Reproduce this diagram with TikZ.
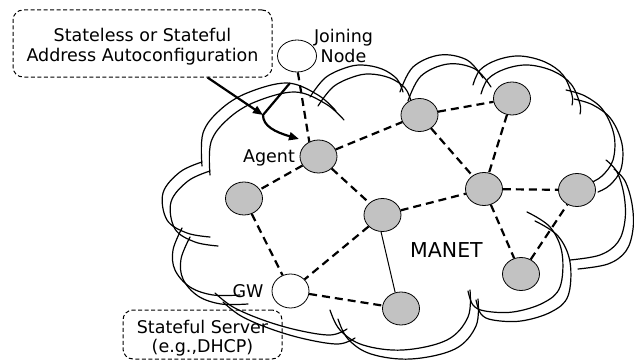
\documentclass[tikz,border=0pt]{standalone}
\usepackage{fontspec}
\setmainfont{DejaVu Sans}
\usetikzlibrary{shapes.geometric,arrows.meta,calc}

\tikzset{
  cloudline/.style={line width=1.2pt, line cap=round},
  host/.style={ellipse, draw, line width=0.8pt, fill=black!24,
    minimum width=37pt, minimum height=33pt, inner sep=0pt},
  freehost/.style={host, fill=white},
  link/.style={line width=2.2pt, dash pattern=on 8pt off 5pt},
  wire/.style={line width=1pt},
  notebox/.style={draw, dash pattern=on 4pt off 2.5pt, line width=1pt,
    rounded corners=10pt, inner sep=0pt},
  txt/.style={font=\fontsize{17.5}{20}\selectfont, inner sep=0pt},
  bigtxt/.style={font=\fontsize{20.5}{24}\selectfont, inner sep=0pt},
  flow/.style={line width=2.2pt, -{Triangle[length=10pt,width=8pt]}},
}

% one outline of the cloud, drawn as overlapping bumps
\newcommand\cloudoutline{%
  \draw[cloudline] plot[smooth,tension=0.6] coordinates
    {(202,162) (180,172) (163,193) (167,220) (187,233) (210,237)};
  \draw[cloudline] plot[smooth,tension=0.6] coordinates
    {(202,166) (203,133) (220,110) (247,93) (287,83) (318,95) (336,111)};
  \draw[cloudline] plot[smooth,tension=0.6] coordinates
    {(310,97) (325,78) (345,68) (362,65) (382,69) (397,79) (403,92)};
  \draw[cloudline] plot[smooth,tension=0.6] coordinates
    {(400,92) (413,67) (440,55) (467,60) (483,78)};
  \draw[cloudline] plot[smooth,tension=0.6] coordinates
    {(473,85) (480,70) (497,60) (520,56) (545,62) (563,75) (572,95) (572,105)};
  \draw[cloudline] plot[smooth,tension=0.6] coordinates
    {(566,90) (585,96) (603,110) (614,135) (613,160) (602,176) (590,183)};
  \draw[cloudline] plot[smooth,tension=0.6] coordinates
    {(606,160) (617,172) (624,195) (625,220) (618,242) (600,255) (570,260)};
  \draw[cloudline] plot[smooth,tension=0.6] coordinates
    {(468,291) (473,305) (485,311) (513,312) (543,303) (560,287) (562,253) (550,227) (527,212)};
  \draw[cloudline] plot[smooth,tension=0.6] coordinates
    {(470,290) (468,317) (447,340) (403,350) (363,345) (340,330) (330,310)};
  \draw[cloudline] plot[smooth,tension=0.6] coordinates
    {(215,293) (233,307) (263,320) (297,330) (330,335) (347,329)};
  \draw[cloudline] plot[smooth,tension=0.6] coordinates
    {(182,228) (173,250) (175,270) (190,287) (213,295) (240,295)};
}

\begin{document}
\begin{tikzpicture}[x=1pt,y=-1pt]
\useasboundingbox (0,0) rectangle (634,361);

% MANET cloud: two offset outlines
\cloudoutline
\begin{scope}[shift={(8,9)}]
  \cloudoutline
\end{scope}

% note boxes
\node[notebox, minimum width=259pt, minimum height=67pt] (box1) at (142.5,43.5) {};
\node[txt, align=center] (box1text) at (142.5,47) {Stateless or Stateful\\Address Autoconfiguration};
\node[notebox, minimum width=159pt, minimum height=49pt] (box2) at (202.5,334.5) {};
\node[txt, align=center, font=\fontsize{17.5}{19}\selectfont] (box2text) at (202.5,338.5) {Stateful Server\\(e.g.,DHCP)};

% hosts
\node[freehost, minimum width=39pt, minimum height=32pt] (J) at (297,56) {};
\node[host] (Ag) at (318.5,156.5) {};
\node[host] (N1) at (419.5,115) {};
\node[host] (N2) at (512,98.5) {};
\node[host] (L)  at (244,198.5) {};
\node[host] (M)  at (382.5,215) {};
\node[host] (RC) at (484,189) {};
\node[host] (FR) at (577,190) {};
\node[host] (BR) at (521,274) {};
\node[host] (BM) at (401,308.5) {};
\node[freehost, minimum height=34pt] (GW) at (290.5,291) {};

% labels
\node[txt, align=center] (jname) at (343.5,45.5) {Joining\\Node};
\node[txt, anchor=base] (agname) at (269,162) {Agent};
\node[txt, anchor=base] (gwname) at (248,297) {GW};
\node[bigtxt, anchor=base] (manet) at (446.5,257) {MANET};

% wireless links
\draw[link] (J.-87) -- (Ag.122);
\draw[link] (Ag) -- (N1);
\draw[link] (Ag) -- (L);
\draw[link] (Ag) -- (M);
\draw[link] (N1) -- (N2);
\draw[link] (N1) -- (RC);
\draw[link] (N2) -- (RC);
\draw[link] (RC) -- (FR);
\draw[link] (RC) -- (BR);
\draw[link] (BR) -- (FR);
\draw[link] (M) -- (RC);
\draw[link] (M) -- (GW);
\draw[link] (L) -- (GW);
\draw[link] (GW) -- (BM);
\draw[wire] (M.-95) -- (BM.110);

% configuration arrows
\coordinate (boxtail) at ($(box1.south west)!0.75!(box1.south east)$);
\coordinate (fork) at (263,115);
\coordinate (jtail) at (290,83);
\coordinate (atip) at (299,139);
\draw[flow] (boxtail) -- (fork);
\draw[flow] (jtail) -- (fork) .. controls (263,126) and (275,132) .. (atip);
\end{tikzpicture}
\end{document}
